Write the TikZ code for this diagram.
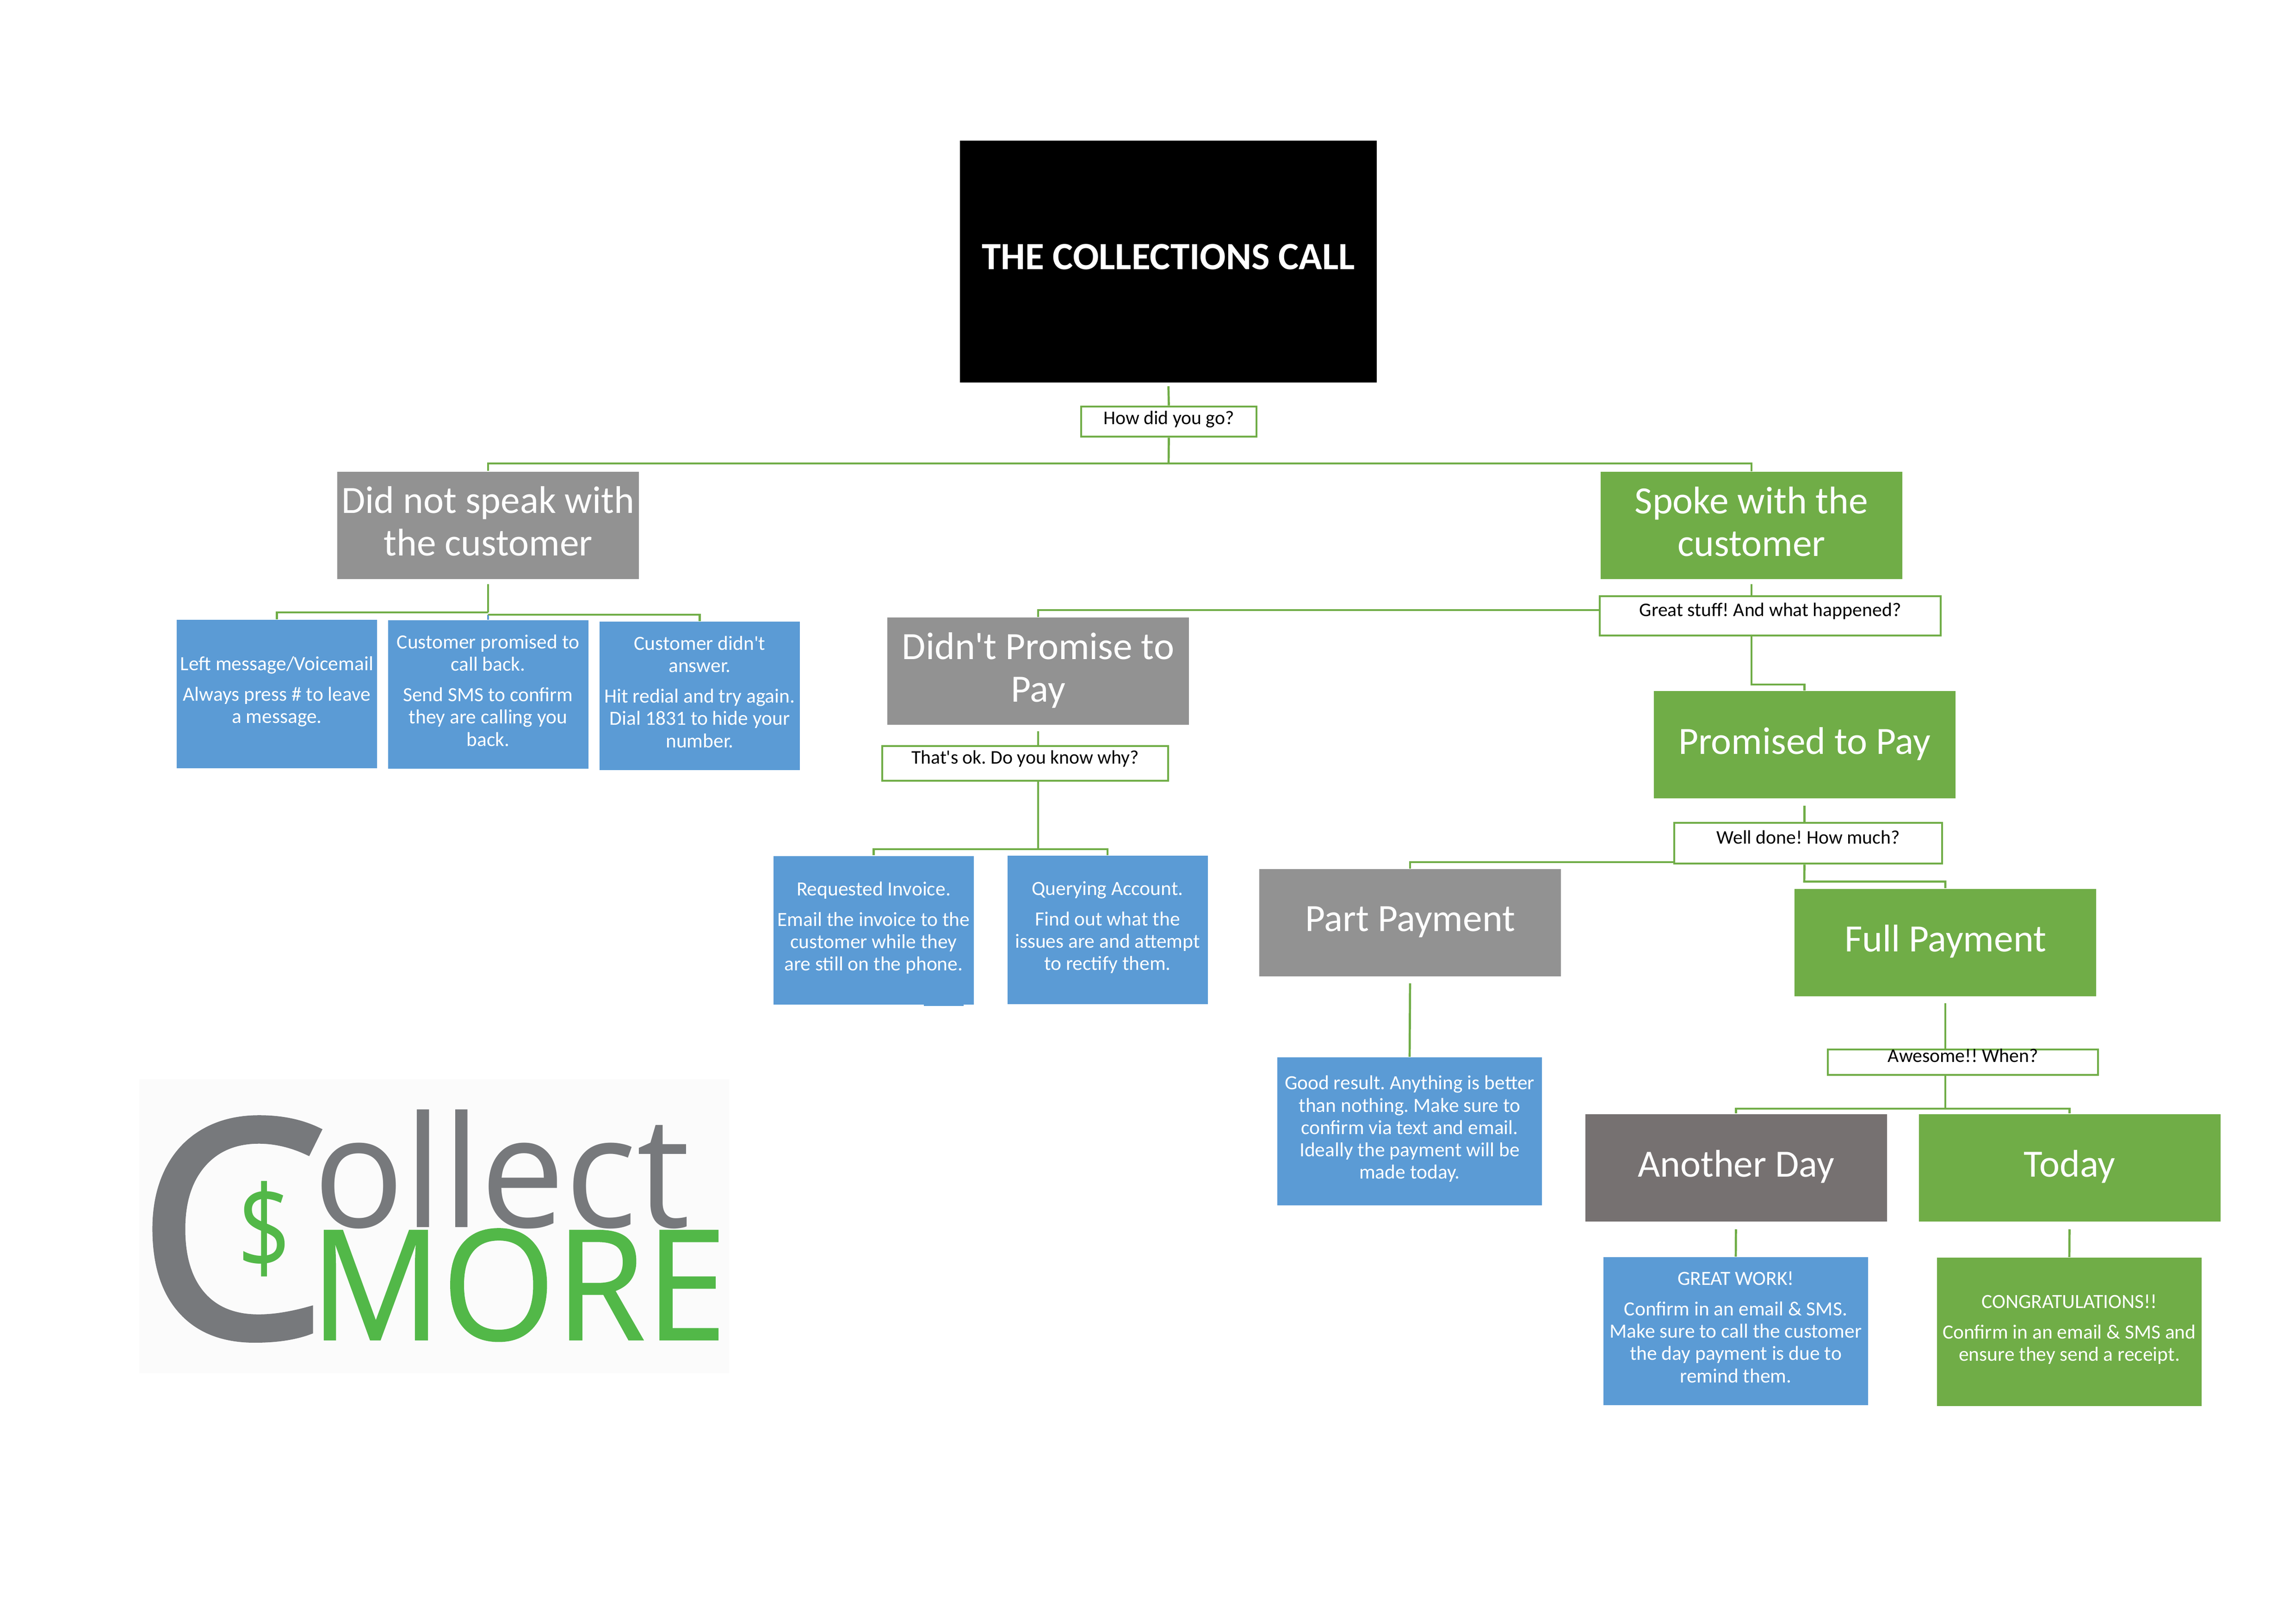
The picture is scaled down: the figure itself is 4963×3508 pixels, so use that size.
\documentclass[tikz,border=0pt]{standalone}
\usepackage{fontspec}
\setmainfont{Carlito}
\newfontfamily\logofont{Open Sans}
\newfontfamily\logobold{Open Sans}[FakeBold=2]
\newfontfamily\logosemi{Open Sans}[FakeBold=0.7]
\usepackage{xcolor}
\usepackage{tikz}
\usetikzlibrary{positioning}
\definecolor{boxgreen}{HTML}{70AD47}
\definecolor{boxblue}{HTML}{5B9BD5}
\definecolor{boxgrey}{HTML}{929292}
\definecolor{daygrey}{HTML}{767171}
\definecolor{logogrey}{HTML}{77797C}
\definecolor{logogreen}{HTML}{52B848}
\definecolor{logoback}{HTML}{FBFBFB}
\def\px{0.0059843cm}
\tikzset{
	bigbox/.style={
			rectangle,
			inner sep=0pt,
			align=center,
			text=white,
			text depth=3pt,
			minimum width=652*\px,
			minimum height=232*\px,
			font=\fontsize{14.2}{15.6}\selectfont
		},
	tipbox/.style={
			rectangle,
			inner sep=0pt,
			align=center,
			text=white,
			text depth=3pt,
			fill=boxblue,
			minimum width=433*\px,
			minimum height=321*\px,
			font=\fontsize{7.4}{8.2}\selectfont
		},
	askbox/.style={
			draw=boxgreen,
			line width=0.8pt,
			fill=white,
			rectangle,
			inner sep=0pt,
			text height=4.4pt,
			font=\fontsize{7.1}{8}\selectfont
		},
	link/.style={draw=boxgreen,line width=0.8pt},
	logotext/.style={anchor=base west,inner sep=0pt,transform shape}
}
\begin{document}
\frenchspacing
\begin{tikzpicture}[x=\px,y=-\px]
		\useasboundingbox (0,0) rectangle (4963,3508);

		% Title
		\node[fill=black,
			text=white,
			inner sep=0pt,
			text depth=3.6pt,
			minimum width=901*\px,
			minimum height=523*\px,
			font=\fontsize{14.2}{15.6}\selectfont\bfseries
		] (title) at (2525.5,565.5) {THE COLLECTIONS CALL};

		% First question
		\node[askbox,
			minimum width=379*\px,
			minimum height=65*\px,
			text depth=2.5pt
		] (howgo) at (2526.5,911.5) {How did you go?};

		\node[bigbox,fill=boxgrey] (nospeak) at (1055,1135.5) {Did not speak with\\the customer};
		\node[bigbox,fill=boxgreen] (spoke) at (3786,1136) {Spoke with the\\customer};

		\coordinate (topjoin) at (2526,1002);
		\draw[link,shorten <=7*\px] (title.south) -- (howgo.north);
		\draw[link] (howgo.south) -- (topjoin);
		\draw[link] (topjoin) -| (nospeak.north);
		\draw[link] (topjoin) -| (spoke.north);

		% Did not speak
		\node[tipbox] (voicemail) at (598.5,1500.5) {Left message/Voicemail\\[3pt]Always press \# to leave\\a message.};
		\node[tipbox] (callback) at (1055,1501.5) {Customer promised to\\call back.\\[3pt]Send SMS to confirm\\they are calling you\\back.};
		\node[tipbox] (noanswer) at (1512.5,1504.5) {Customer didn\textquotesingle t\\answer.\\[3pt]Hit redial and try again.\\Dial 1831 to hide your\\number.};

		\coordinate (nojoinl) at (1055,1324);
		\coordinate (nojoinr) at (1055,1329);
		\draw[draw=boxblue,line width=0.8pt] (nojoinr) -- (callback.north);
		\draw[link,shorten <=10*\px] (nospeak.south) -- (nojoinl);
		\draw[link] (nojoinl) -| (voicemail.north);
		\draw[link] (nojoinr) -| (noanswer.north);

		% Second question
		\node[askbox,
			minimum width=737*\px,
			minimum height=85*\px,
			text depth=4pt
		] (whathappened) at (3826.5,1331.5) {Great stuff! And what happened?};
		\node[bigbox,fill=boxgrey] (nopromise) at (2244,1451) {Didn\textquotesingle t Promise to\\Pay};
		\node[bigbox,fill=boxgreen] (promised) at (3900.5,1610) {Promised to Pay};

		\coordinate (leftjoin) at (whathappened.west |- 0,1319);
		\coordinate (rightjoin) at (3786,1480);
		\draw[link,shorten <=10*\px] (spoke.south) -- (spoke.south |- whathappened.north);
		\draw[link] (leftjoin) -| (nopromise.north);
		\draw[link] (spoke.south |- whathappened.south) -- (rightjoin) -| (promised.north);

		% Didn't promise
		\node[askbox,
			minimum width=618*\px,
			minimum height=75*\px,
			text depth=4pt
		] (whynot) at (2216,1650.5) {That\textquotesingle s ok. Do you know why?};
		\node[tipbox] (invoice) at (1888.5,2011) {Requested Invoice.\\[3pt]Email the invoice to the\\customer while they\\are still on the phone.};
		\node[tipbox] (account) at (2394,2010.5) {Querying Account.\\[3pt]Find out what the\\issues are and attempt\\to rectify them.};
		\fill[boxblue] (1997,2168) rectangle (2083,2175);

		\coordinate (whyjoin) at (2244,1836);
		\draw[link,shorten <=13*\px] (nopromise.south) -- (nopromise.south |- whynot.north);
		\draw[link] (nopromise.south |- whynot.south) -- (whyjoin);
		\draw[link] (whyjoin) -| (invoice.north);
		\draw[link] (whyjoin) -| (account.north);

		% Promised to pay
		\node[askbox,
			minimum width=579*\px,
			minimum height=88*\px,
			text depth=3.9pt
		] (howmuch) at (3908.5,1823) {Well done! How much?};
		\node[bigbox,fill=boxgrey] (part) at (3048,1995) {Part Payment};
		\node[bigbox,fill=boxgreen] (full) at (4205,2037.5) {Full Payment};
		\node[tipbox,minimum width=572*\px,minimum height=320*\px] (result) at (3047,2446) {Good result. Anything is better\\than nothing. Make sure to\\confirm via text and email.\\Ideally the payment will be\\made today.};

		\coordinate (muchleft) at (howmuch.west |- 0,1864);
		\coordinate (muchjoin) at (3900,1906);
		\draw[link,shorten <=15*\px] (promised.south) -- (promised.south |- howmuch.north);
		\draw[link] (muchleft) -| (part.north);
		\draw[link] (promised.south |- howmuch.south) -- (muchjoin) -| (full.north);
		\draw[link,shorten <=14*\px] (part.south) -- (result.north);

		% Full payment
		\node[askbox,
			minimum width=584*\px,
			minimum height=55*\px,
			text depth=4.5pt
		] (when) at (4243,2296.5) {Awesome!! When?};
		\node[bigbox,fill=daygrey] (another) at (3752.5,2524.5) {Another Day};
		\node[bigbox,fill=boxgreen] (today) at (4473.5,2524.5) {Today};
		\node[tipbox,minimum width=572*\px,minimum height=320*\px] (greatwork) at (3752,2878) {GREAT WORK!\\[3pt]Confirm in an email \& SMS.\\Make sure to call the customer\\the day payment is due to\\remind them.};
		\node[tipbox,fill=boxgreen,minimum width=572*\px] (congrats) at (4473,2879.5) {CONGRATULATIONS!!\\[3pt]Confirm in an email \& SMS and\\ensure they send a receipt.};

		\coordinate (whenjoin) at (4205,2397);
		\draw[link,shorten <=14*\px] (full.south) -- (full.south |- when.north);
		\draw[link] (full.south |- when.south) -- (whenjoin);
		\draw[link] (whenjoin) -| (another.north);
		\draw[link] (whenjoin) -| (today.north);
		\draw[link,shorten <=16*\px] (another.south) -- (greatwork.north);
		\draw[link,shorten <=16*\px] (today.south) -- (congrats.north);

		% Logo
		\node[fill=logoback,
			inner sep=0pt,
			minimum width=1275*\px,
			minimum height=636*\px
		] (logoback) at (938.5,2651) {};
		\node[logotext,text=logogrey,font=\fontsize{111}{111}\selectfont\logobold] (logoc) at (295,2890) {C};
		\node[logotext,text=logogrey,font=\fontsize{57}{57}\selectfont\logofont,xscale=0.973] (logoword) at (676,2653) {ollect};
		\node[logotext,text=logogreen,font=\fontsize{43}{43}\selectfont\logofont,xscale=0.8] (logodollar) at (513,2745) {\$};
		\node[logotext,text=logogreen,font=\fontsize{56.5}{56.5}\selectfont\logosemi,xscale=0.95] (logomore) at (669,2897) {MORE};
	\end{tikzpicture}
\end{document}
